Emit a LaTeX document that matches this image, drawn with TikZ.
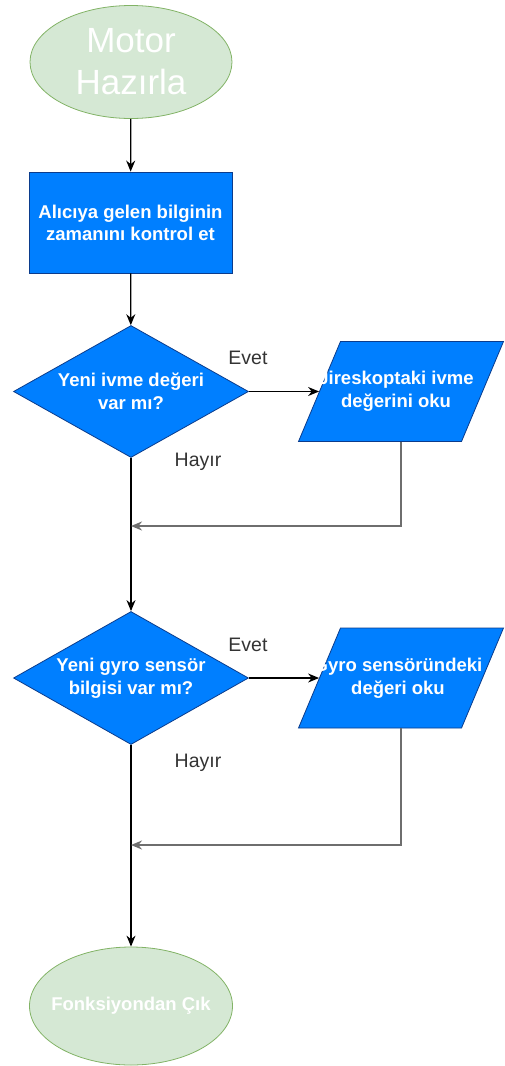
\documentclass[tikz,border=0pt]{standalone}
\usepackage{fontspec}
\setmainfont{Liberation Sans}
\usepackage{xcolor}
\usetikzlibrary{shapes, shapes.geometric, arrows.meta, positioning}
\definecolor{procblue}{HTML}{007FFF}
\definecolor{procedge}{HTML}{0B3C8C}
\definecolor{termfill}{HTML}{D5E8D4}
\definecolor{termedge}{HTML}{82B366}
\definecolor{labelgray}{HTML}{333333}
\definecolor{backgray}{HTML}{6E6E6E}

\begin{document}
\begin{tikzpicture}[
            x=1pt, y=-1pt,
            terminal/.style={ellipse, fill=termfill, draw=termedge, line width=0.8pt,
                text=white, align=center, inner sep=0pt},
            process/.style={rectangle, fill=procblue, draw=procedge, line width=0.8pt,
                text=white, align=center, inner sep=0pt,
                font=\fontsize{18.5}{22}\selectfont\bfseries},
            decision/.style={diamond, fill=procblue, draw=procedge, line width=0.8pt,
                text=white, align=center, inner sep=0pt, aspect=1.78,
                font=\fontsize{18.5}{23}\selectfont\bfseries},
            readio/.style={rectangle, xslant=0.42, fill=procblue, draw=procedge, line width=0.8pt,
                minimum width=163pt, minimum height=100pt, inner sep=0pt},
            readtext/.style={text=white, align=center, inner sep=0pt,
                font=\fontsize{18.5}{23}\selectfont\bfseries},
            answer/.style={text=labelgray, font=\fontsize{19.5}{23}\selectfont},
            flow/.style={->, line width=1.3pt},
            back/.style={->, line width=1.8pt, draw=backgray},
            >={Stealth[length=11pt, width=9pt]}
        ]
        \useasboundingbox (0,0) rectangle (504,1066);

        \node[terminal, minimum width=202pt, minimum height=113pt,
            font=\fontsize{35}{42}\selectfont] (start) at (131,62) {Motor\\Hazırla};
        \node[process, minimum width=203pt, minimum height=101pt]
            (ctrl) at (130.5,222.5) {Alıcıya gelen bilginin\\zamanını kontrol et};

        \node[decision, minimum width=235pt, minimum height=132pt]
            (ivme) at (131,391.5) {Yeni ivme değeri\\var mı?};
        \node[readio] (ivmeRead) at (401,391.5) {};
        \node[readtext] (ivmeText) at ([xshift=-5pt]ivmeRead.center) {Jireskoptaki ivme\\değerini oku};

        \node[decision, minimum width=235pt, minimum height=133pt]
            (gyro) at (131,678) {Yeni gyro sensör\\bilgisi var mı?};
        \node[readio] (gyroRead) at (401,678) {};
        \node[readtext] (gyroText) at ([xshift=-3pt]gyroRead.center) {Gyro sensöründeki\\değeri oku};

        \node[terminal, minimum width=203pt, minimum height=118pt, inner sep=-10pt,
            font=\fontsize{18.5}{22}\selectfont\bfseries] (stop) at (131,1006) {Fonksiyondan Çık};

        % merge points on the main line
        \coordinate (ivmeJoin) at (131,526);
        \coordinate (gyroJoin) at (131,845);

        \foreach \Name/\Pos/\Text in {ivmeYes/{248,358}/Evet, ivmeNo/{198,462}/Hayır,
                gyroYes/{248,645}/Evet, gyroNo/{198,763}/Hayır}
            \node[answer] (\Name) at (\Pos) {\Text};

        \foreach \From/\To in {start/ctrl, ctrl/ivme, ivme/gyro, gyro/stop}
            \draw[flow] (\From) -- (\To);
        \draw[flow] (ivme.east) -- (ivmeRead.west);
        \draw[flow] (gyro.east) -- (gyroRead.west);

        \draw[back] (ivmeRead.south -| ivmeRead.center) |- (ivmeJoin);
        \draw[back] (gyroRead.south -| gyroRead.center) |- (gyroJoin);
    \end{tikzpicture}
\end{document}
